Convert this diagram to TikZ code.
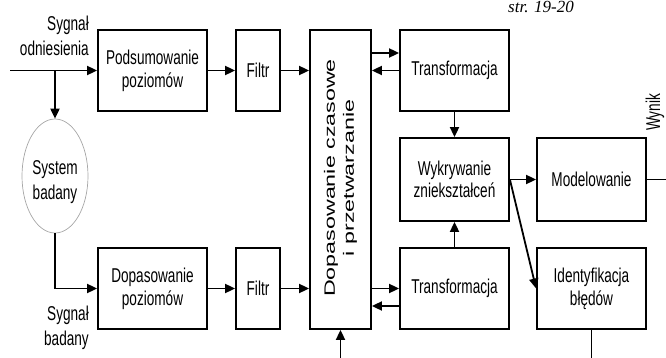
\documentclass[tikz,border=0pt]{standalone}
\usepackage{fontspec}
\setmainfont{Liberation Sans}
\newfontfamily\narrowfont{Liberation Sans}[FakeStretch=0.68]
\newfontfamily\widefont{Liberation Sans}[FakeStretch=1.55]
\newfontfamily\pagefont{Liberation Serif}
\usepackage{tikz}
\usetikzlibrary{arrows.meta,shapes.geometric}

\newcommand{\blockfont}{\narrowfont\fontsize{20}{22.7}\selectfont}
\newcommand{\lblfont}{\narrowfont\fontsize{20}{25}\selectfont}
\newcommand{\syncfont}{\widefont\fontsize{15}{19}\selectfont}

\tikzset{
  block/.style={draw, line width=1.8pt, inner sep=0pt, align=center, font=\blockfont},
  wideblock/.style={block, minimum width=109pt, minimum height=81pt},
  thinblock/.style={block, minimum width=44pt, minimum height=81pt},
  wire/.style={line width=1.8pt},
  arr/.style={wire, -{Triangle[length=10pt,width=9pt]}},
  lbl/.style={inner sep=0pt, align=right, font=\lblfont}
}

\begin{document}
\begin{tikzpicture}[x=1pt, y=-1pt]
    \useasboundingbox (0,0) rectangle (666,358);

    % Page number
    \node[font=\pagefont\itshape\fontsize{17}{17}\selectfont, anchor=base west, inner sep=0pt] (page) at (508,13) {str. 19-20};

    % Input signals
    \node[lbl, anchor=north east] (refsig) at (89,16) {Sygnał\\odniesienia};
    \node[lbl, anchor=north east] (testsig) at (89,306) {Sygnał\\badany};
    \node[ellipse, draw=gray!70, line width=0.7pt, inner sep=0pt, minimum width=66pt, minimum height=114pt,
          label={[name=systxt, lbl, align=center, yshift=-6pt]center:System\\badany}] (sys) at (55,176) {};

    % Upper branch
    \node[wideblock] (sum) at (152.5,70.5) {Podsumowanie\\poziomów};
    \node[thinblock] (filtU) at (258,70.5) {Filtr};

    % Lower branch
    \node[wideblock] (match) at (152.5,288.5) {Dopasowanie\\poziomów};
    \node[thinblock] (filtL) at (258,288.5) {Filtr};

    % Time alignment block
    \node[block, minimum width=61pt, minimum height=299pt] (sync) at (340.5,179.5) {};
    \node[rotate=90, align=center, inner sep=0pt, font=\syncfont] (synctxt) at (340.5,178) {Dopasowanie czasowe\\i przetwarzanie};

    % Right part
    \node[wideblock] (trU) at (454.5,70.5) {Transformacja};
    \node[wideblock, minimum height=83pt] (detect) at (454.5,179.5) {Wykrywanie\\zniekształceń};
    \node[wideblock] (trL) at (454.5,288.5) {Transformacja};
    \node[wideblock, minimum height=83pt] (model) at (591.5,179.5) {Modelowanie};
    \node[wideblock] (ident) at (591.5,288.5) {Identyfikacja\\błędów};
    \node[rotate=90, anchor=base, inner sep=0pt, font=\blockfont] (result) at (660,112.5) {Wynik};

    % Free ends
    \coordinate (in) at (10,70.5);
    \coordinate (split) at (55,70.5);
    \coordinate (syncIn) at (340.5,358);
    \coordinate (identOut) at (591.5,358);
    \coordinate (out) at (666,179.5);
    \coordinate (trUa) at ([yshift=17.5pt]trU.west);
    \coordinate (trLb) at ([yshift=-17.5pt]trL.west);

    % Connections, upper branch
    \draw[arr] (in) -- (sum.west);
    \draw[arr] (split) -- (sys.north);
    \draw[arr] (sum) -- (filtU);
    \draw[arr] (filtU.east) -- (filtU.east -| sync.west);

    % Connections, lower branch
    \draw[arr] (sys.south) |- (match.west);
    \draw[arr] (match) -- (filtL);
    \draw[arr] (filtL.east) -- (filtL.east -| sync.west);
    \draw[arr] (syncIn) -- (sync.south);

    % Transformations
    \draw[arr] (trUa -| sync.east) -- (trUa);
    \draw[arr] (trU.west) -- (trU.west -| sync.east);
    \draw[arr] (sync.east |- trL.west) -- (trL.west);
    \draw[arr] (trLb) -- (trLb -| sync.east);
    \draw[arr] (trU) -- (detect);
    \draw[arr] (trL) -- (detect);

    % Outputs
    \draw[arr] (detect) -- (model);
    \draw[arr] (detect.east) -- (ident.west);
    \draw[wire] (model.east) -- (out);
    \draw[wire] (ident.south) -- (identOut);
\end{tikzpicture}
\end{document}
